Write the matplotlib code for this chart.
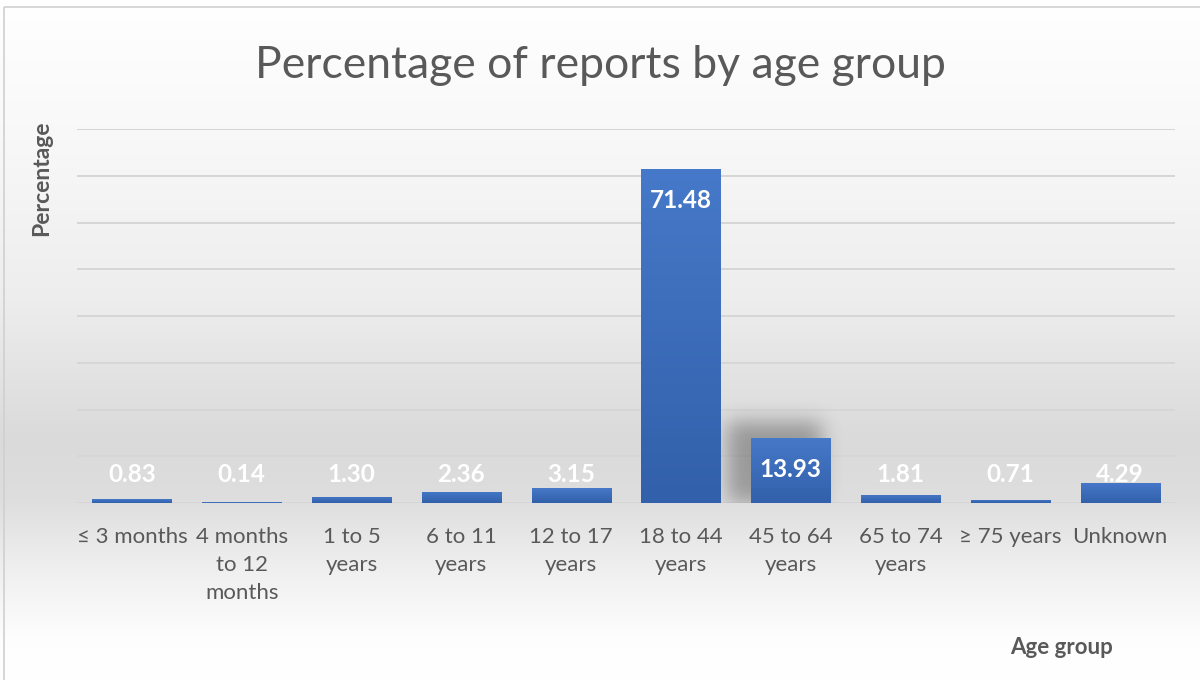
import matplotlib.pyplot as plt
import numpy as np
from matplotlib.colors import LinearSegmentedColormap
from matplotlib.patches import Rectangle

groups = ["≤ 3 months", "4 months\nto 12\nmonths", "1 to 5\nyears", "6 to 11\nyears",
          "12 to 17\nyears", "18 to 44\nyears", "45 to 64\nyears", "65 to 74\nyears",
          "≥ 75 years", "Unknown"]
percent = [0.83, 0.14, 1.30, 2.36, 3.15, 71.48, 13.93, 1.81, 0.71, 4.29]

plt.rcParams["font.family"] = ["Lato", "DejaVu Sans"]
txt = "#595959"

fig = plt.figure(figsize=(12, 6.8), dpi=100)

# soft grey vertical gradient behind the whole chart
bg = fig.add_axes([0, 0, 1, 1], zorder=-10)
stops_y = np.array([0, 130, 300, 440, 500, 560, 640, 680]) / 680
stops_v = np.array([1.0, 0.975, 0.93, 0.855, 0.87, 0.93, 0.995, 1.0])
yy = np.linspace(0, 1, 680)
shade = np.interp(yy, stops_y, stops_v)
bg_rgb = np.repeat(np.tile(shade[:, None], (1, 4))[..., None], 3, axis=2)
bg.imshow(bg_rgb, aspect="auto", extent=[0, 1, 1, 0], interpolation="nearest")
bg.set_xlim(0, 1)
bg.set_ylim(1, 0)
bg.axis("off")
bg.add_patch(Rectangle((4 / 1200, 7 / 680), 1.2, 1.2, fill=False,
                       edgecolor="#d0d0d0", lw=1.2))

ax = fig.add_axes([77 / 1200, 1 - 503 / 680, 1098 / 1200, 374 / 680])
ax.set_facecolor("none")
ax.set_xlim(-0.5, 9.5)
ax.set_ylim(0, 80)

for g in range(0, 90, 10):
    ax.axhline(g, color="#d6d6d6", lw=1.4, zorder=1)

x = np.arange(len(groups))
w = 0.72

# blurred drop shadow behind the 45 to 64 bar, thrown up and to the left
sx = np.linspace(5.2, 6.9, 300)
sy = np.linspace(-4, 28, 300)
X, Y = np.meshgrid(sx, sy)
mask = ((X > 6 - w / 2 - 0.22) & (X < 6 + w / 2 - 0.08) &
        (Y > 0) & (Y < percent[6] + 3.5)).astype(float)
kx = np.exp(-0.5 * (np.linspace(-0.3, 0.3, 107) / 0.09) ** 2)
ky = np.exp(-0.5 * (np.linspace(-6, 6, 121) / 2.0) ** 2)
kx /= kx.sum()
ky /= ky.sum()
blur = np.apply_along_axis(lambda r: np.convolve(r, kx, mode="same"), 1, mask)
blur = np.apply_along_axis(lambda c: np.convolve(c, ky, mode="same"), 0, blur)
rgba = np.zeros(blur.shape + (4,))
rgba[..., 3] = blur * 0.3
ax.imshow(rgba, extent=[sx[0], sx[-1], sy[0], sy[-1]], origin="lower",
          aspect="auto", zorder=2, interpolation="bilinear")

bar_cmap = LinearSegmentedColormap.from_list("bar", ["#3260aa", "#4679c9"])
grad = np.linspace(0, 1, 256)[:, None]
bars = ax.bar(x, percent, width=w, color="none", zorder=3)
for b in bars:
    x0, y0 = b.get_x(), b.get_y()
    im = ax.imshow(grad, cmap=bar_cmap, origin="lower", aspect="auto",
                   extent=[x0, x0 + b.get_width(), y0, y0 + b.get_height()],
                   zorder=3)
    im.set_clip_path(b)

for xi, v in zip(x, percent):
    ly = v - 6.85 if v > 10 else 6.0
    ax.text(xi, ly, f"{v:.2f}", ha="center", va="center", color="white",
            fontsize=17.5, fontweight="bold", zorder=5)

ax.set_xticks(x)
ax.set_xticklabels(groups, fontsize=16, color=txt, linespacing=1.5)
ax.set_yticks([])
ax.tick_params(axis="x", length=0, pad=17)
for s in ax.spines.values():
    s.set_visible(False)

fig.text(0.5, 1 - 65 / 680, "Percentage of reports by age group", ha="center",
         va="center", fontsize=32, color=txt)
fig.text(42 / 1200, 1 - 178 / 680, "Percentage", rotation=90, ha="center",
         va="center", fontsize=16.5, fontweight="bold", color=txt)
fig.text(1062 / 1200, 1 - 647 / 680, "Age group", ha="center", va="center",
         fontsize=16, fontweight="bold", color=txt)

plt.savefig("out.png", dpi=100)
